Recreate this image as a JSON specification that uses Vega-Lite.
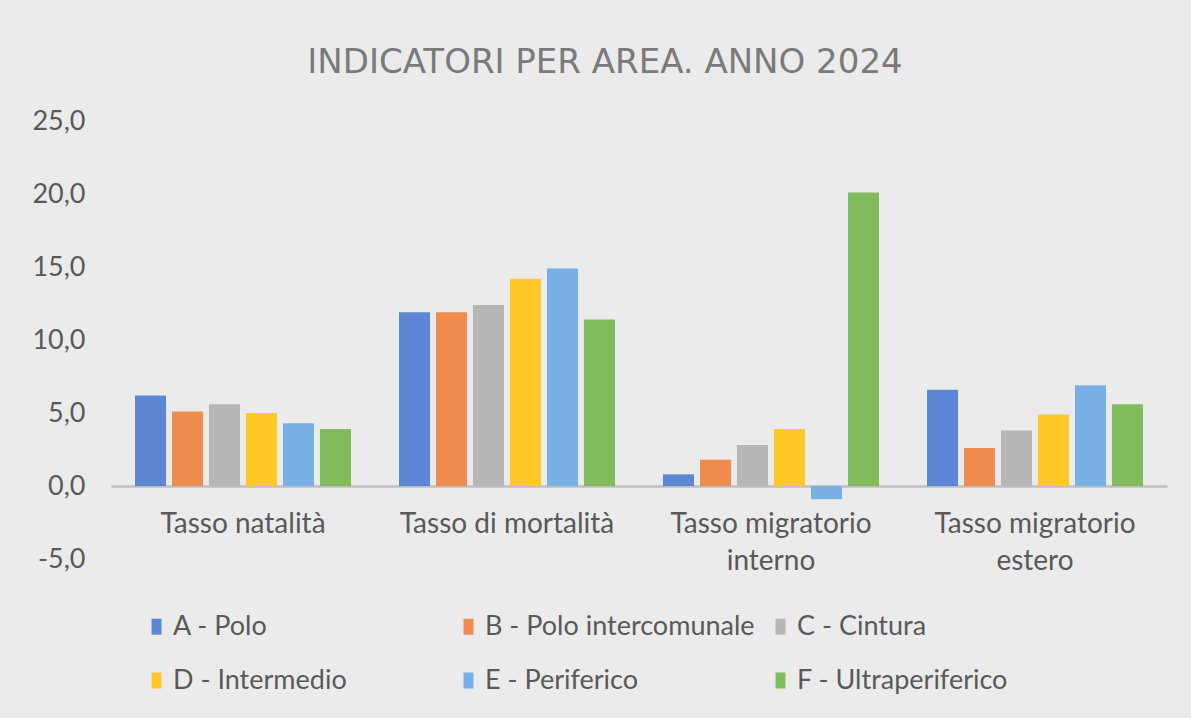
{
  "$schema": "https://vega.github.io/schema/vega-lite/v6.json",
  "width": 1056,
  "height": 438,
  "autosize": {"type": "none"},
  "padding": {"left": 111, "top": 121, "right": 24, "bottom": 159},
  "background": "#ebebeb",
  "title": {
    "text": "INDICATORI PER AREA. ANNO 2024",
    "font": "DejaVu Sans",
    "fontSize": 34,
    "fontWeight": "normal",
    "color": "#7a7a7a",
    "anchor": "middle",
    "dx": -34,
    "offset": 27
  },
  "data": {
    "values": [
      {"indicatore": "Tasso natalità", "area": "A - Polo", "valore": 6.2},
      {"indicatore": "Tasso natalità", "area": "B - Polo intercomunale", "valore": 5.1},
      {"indicatore": "Tasso natalità", "area": "C - Cintura", "valore": 5.6},
      {"indicatore": "Tasso natalità", "area": "D - Intermedio", "valore": 5.0},
      {"indicatore": "Tasso natalità", "area": "E - Periferico", "valore": 4.3},
      {"indicatore": "Tasso natalità", "area": "F - Ultraperiferico", "valore": 3.9},
      {"indicatore": "Tasso di mortalità", "area": "A - Polo", "valore": 11.9},
      {"indicatore": "Tasso di mortalità", "area": "B - Polo intercomunale", "valore": 11.9},
      {"indicatore": "Tasso di mortalità", "area": "C - Cintura", "valore": 12.4},
      {"indicatore": "Tasso di mortalità", "area": "D - Intermedio", "valore": 14.2},
      {"indicatore": "Tasso di mortalità", "area": "E - Periferico", "valore": 14.9},
      {"indicatore": "Tasso di mortalità", "area": "F - Ultraperiferico", "valore": 11.4},
      {"indicatore": "Tasso migratorio interno", "area": "A - Polo", "valore": 0.8},
      {"indicatore": "Tasso migratorio interno", "area": "B - Polo intercomunale", "valore": 1.8},
      {"indicatore": "Tasso migratorio interno", "area": "C - Cintura", "valore": 2.8},
      {"indicatore": "Tasso migratorio interno", "area": "D - Intermedio", "valore": 3.9},
      {"indicatore": "Tasso migratorio interno", "area": "E - Periferico", "valore": -0.9},
      {"indicatore": "Tasso migratorio interno", "area": "F - Ultraperiferico", "valore": 20.1},
      {"indicatore": "Tasso migratorio estero", "area": "A - Polo", "valore": 6.6},
      {"indicatore": "Tasso migratorio estero", "area": "B - Polo intercomunale", "valore": 2.6},
      {"indicatore": "Tasso migratorio estero", "area": "C - Cintura", "valore": 3.8},
      {"indicatore": "Tasso migratorio estero", "area": "D - Intermedio", "valore": 4.9},
      {"indicatore": "Tasso migratorio estero", "area": "E - Periferico", "valore": 6.9},
      {"indicatore": "Tasso migratorio estero", "area": "F - Ultraperiferico", "valore": 5.6}
    ]
  },
  "mark": {"type": "bar"},
  "encoding": {
    "x": {
      "field": "indicatore",
      "type": "nominal",
      "sort": ["Tasso natalità", "Tasso di mortalità", "Tasso migratorio interno", "Tasso migratorio estero"],
      "scale": {"paddingInner": 0.182, "paddingOuter": 0.091},
      "axis": {
        "title": null,
        "orient": "bottom",
        "offset": -73,
        "labelAngle": 0,
        "ticks": false,
        "domain": true,
        "domainColor": "#bfbfbf",
        "domainWidth": 2.5,
        "labelFont": "Lato",
        "labelFontSize": 28,
        "labelColor": "#595959",
        "labelPadding": 24,
        "labelLineHeight": 37,
        "labelLimit": 400,
        "labelExpr": "datum.label == 'Tasso migratorio interno' ? ['Tasso migratorio', 'interno'] : datum.label == 'Tasso migratorio estero' ? ['Tasso migratorio', 'estero'] : datum.label"
      }
    },
    "xOffset": {
      "field": "area",
      "type": "nominal",
      "scale": {"paddingInner": 0.162, "paddingOuter": 0}
    },
    "y": {
      "field": "valore",
      "type": "quantitative",
      "scale": {"domain": [-5, 25], "nice": false, "zero": false},
      "axis": {
        "title": null,
        "values": [-5, 0, 5, 10, 15, 20, 25],
        "grid": false,
        "domain": false,
        "ticks": false,
        "labelFont": "Lato",
        "labelFontSize": 27,
        "labelColor": "#595959",
        "labelPadding": 26,
        "labelExpr": "replace(replace(format(datum.value, '.1f'), '.', ','), '−', '-')"
      }
    },
    "color": {
      "field": "area",
      "type": "nominal",
      "scale": {
        "domain": ["A - Polo", "B - Polo intercomunale", "C - Cintura", "D - Intermedio", "E - Periferico", "F - Ultraperiferico"],
        "range": ["#5d87d4", "#f08c4e", "#b6b6b6", "#ffc928", "#78b0e6", "#80bc5c"]
      },
      "legend": {
        "title": null,
        "orient": "none",
        "direction": "horizontal",
        "legendX": 32,
        "legendY": 492,
        "columns": 3,
        "gridAlign": "all",
        "padding": 0,
        "columnPadding": 12,
        "rowPadding": 26,
        "symbolType": "M-0.62,-1L0.62,-1L0.62,1L-0.62,1Z",
        "symbolSize": 256,
        "symbolStrokeWidth": 0,
        "labelFont": "Lato",
        "labelFontSize": 27,
        "labelColor": "#595959",
        "labelOffset": 3,
        "labelLimit": 400
      }
    }
  },
  "config": {
    "view": {"stroke": null}
  }
}
